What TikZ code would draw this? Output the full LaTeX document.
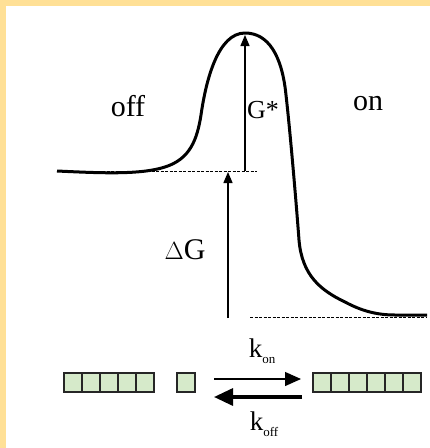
\documentclass[tikz,border=0pt]{standalone}
\usepackage{fontspec}
\setmainfont{Liberation Serif}
\usepackage{tikz}
\usetikzlibrary{positioning}
\usetikzlibrary{calc,arrows.meta}

\definecolor{frame}{RGB}{255,224,150}
\definecolor{unit}{RGB}{214,234,202}
\newcommand{\rate}[1]{k\raisebox{-0.45ex}{\fontsize{13}{13}\selectfont #1}}

\begin{document}
\begin{tikzpicture}[x=1pt,y=-1pt,
  label text/.style={inner sep=0pt,font=\fontsize{30}{31}\selectfont},
  unit box/.style={draw=black!85,line width=2pt,fill=unit,minimum width=18pt,minimum height=19pt,inner sep=0pt,anchor=north west},
  level/.style={dashed,dash pattern=on 3pt off 1.5pt,line width=1pt},
  height arrow/.style={-{Triangle[length=11pt,width=9pt]},line width=1.3pt}]
\useasboundingbox (0,0) rectangle (430,448);
\fill[frame] (0,0) rectangle (430,448);
\fill[white] (6,6) rectangle (430,448);
% energy profile
\draw[line width=3pt,line join=round] (57,171) .. controls (100,173) and (140,175) .. (165,167)
  .. controls (190,159) and (197,140) .. (201,115)
  .. controls (206,80) and (218,33) .. (245,33)
  .. controls (268,33) and (282,55) .. (286,95)
  .. controls (290,130) and (296,200) .. (299,240)
  .. controls (302,275) and (320,290) .. (345,302)
  .. controls (360,310) and (375,315) .. (395,315) -- (427,315);
\coordinate (offL) at (57,171);
\coordinate (offR) at (257,171);
\coordinate (onL) at (250,317);
\coordinate (onR) at (427,317);
\coordinate (gbase) at (245,171);
\coordinate (gtop) at (245,35);
\coordinate (dbase) at (228,318);
\coordinate (dtop) at (228,172);
\draw[level] (offL) -- (offR);
\draw[level] (onL) -- (onR);
\draw[height arrow] (gbase) -- (gtop);
\draw[height arrow] (dbase) -- (dtop);
\node[label text] (off) at (128,106) {off};
\node[label text] (on) at (368,104) {on};
\node[label text,anchor=west,font=\fontsize{26}{27}\selectfont] (gstar) at (247,110) {G*};
\node[label text] (dG) at (185,250) {$\Delta$G};
% filaments
\foreach \i in {0,...,4}
  \node[unit box] (L\i) at (63+18*\i,372) {};
\node[unit box] (M) at (176,372) {};
\foreach \i in {0,...,5}
  \node[unit box] (R\i) at (312+18*\i,372) {};
\coordinate (fwdA) at (214,379);
\coordinate (fwdB) at (301,379);
\coordinate (bckA) at (302,397);
\coordinate (bckB) at (214,397);
\draw[-{Triangle[length=16pt,width=14pt]},line width=1.3pt] (fwdA) -- (fwdB);
\draw[-{Triangle[length=19pt,width=17pt]},line width=3.2pt] (bckA) -- (bckB);
\node[label text,font=\fontsize{27}{28}\selectfont] (kon) at (262,351) {\rate{on}};
\node[label text,font=\fontsize{27}{28}\selectfont] (koff) at (264,424) {\rate{off}};
\end{tikzpicture}
\end{document}
